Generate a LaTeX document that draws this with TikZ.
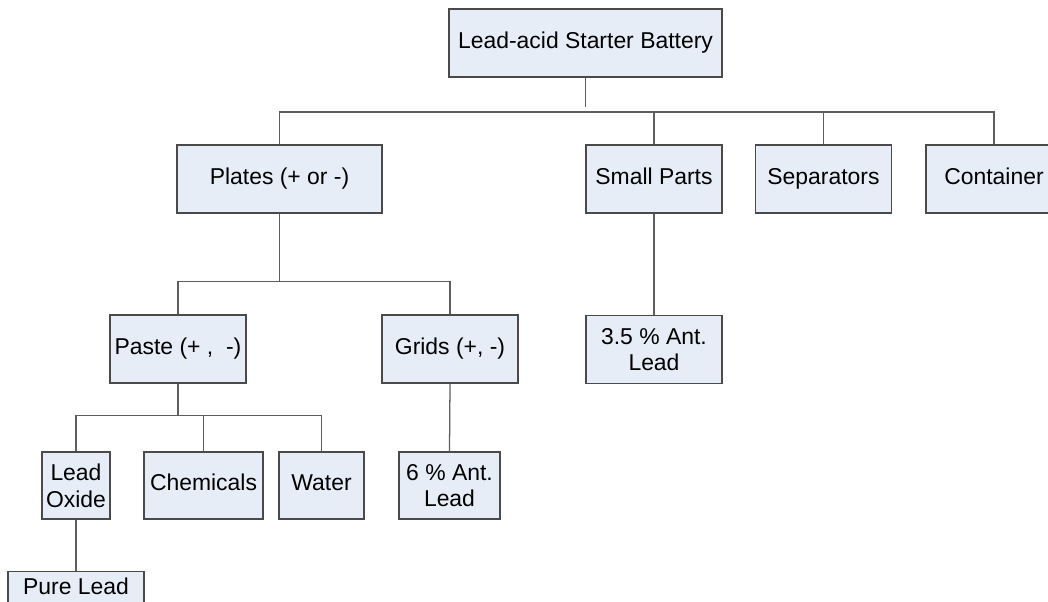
\documentclass[tikz,border=0pt]{standalone}
\usepackage{fontspec}
\setmainfont{Liberation Sans}
\usepackage{xcolor}
\usepackage{tikz}
\usetikzlibrary{positioning}

\definecolor{boxfill}{HTML}{E6EDF7}
\definecolor{boxline}{HTML}{4A4A4A}
\definecolor{wire}{HTML}{5E5E5E}

\tikzset{
	part/.style={shape=rectangle, draw=boxline, fill=boxfill, line width=0.8pt, align=center, inner sep=2pt, minimum height=1.7cm, font=\fontsize{16.3}{19}\selectfont},
	oneline/.style={text height=0.716em, text depth=0pt},
	link/.style={draw=wire, line width=0.9pt}
}

\begin{document}
\begin{tikzpicture}[x=0.025cm, y=-0.025cm]
	\useasboundingbox (0, 0) rectangle (1048, 601);
	% Boxes:
	\node[part, oneline, minimum width=6.825cm](top) at (585.5, 43){Lead-acid Starter Battery};
	\node[part, oneline, minimum width=5.125cm](plates) at (279.5, 179){Plates (+ or -)};
	\node[part, oneline, minimum width=3.4cm](small) at (654, 179){Small Parts};
	\node[part, oneline, minimum width=3.4cm](sep) at (823.5, 179){Separators};
	\node[part, oneline, minimum width=3.4cm](cont) at (994, 179){Container};
	\node[part, oneline, minimum width=3.4cm](paste) at (178, 349){Paste (+ ,\ \ -)};
	\node[part, oneline, minimum width=3.4cm](grids) at (450, 349){Grids (+, -)};
	\node[part, minimum width=3.4cm](ant35) at (654, 349.5){3.5 \% Ant.\\Lead};
	\node[part, minimum width=1.7cm, minimum height=1.675cm](oxide) at (76, 485.5){Lead\\Oxide};
	\node[part, oneline, minimum width=2.975cm, minimum height=1.675cm](chem) at (203.5, 485.5){Chemicals};
	\node[part, oneline, minimum width=2.125cm, minimum height=1.675cm](water) at (321.5, 485.5){Water};
	\node[part, minimum width=2.525cm, minimum height=1.675cm](ant6) at (449.5, 485.5){6 \% Ant.\\Lead};
	\node[part, minimum width=3.4cm, text height=0.505cm, text depth=1.055cm, anchor=north](pure) at (76, 571){Pure Lead};
	% Buses:
	\coordinate (bus1) at (0, 112);
	\coordinate (bus2) at (0, 281.7);
	\coordinate (bus3) at (0, 415.7);
	% Wires:
	\draw[link, shorten >=0.12cm] (top.south) -- (top.south |- bus1);
	\draw[link] (plates.north) |- (cont.north |- bus1) -- (cont.north);
	\draw[link] (small.north) -- (small.north |- bus1);
	\draw[link] (sep.north) -- (sep.north |- bus1);
	\draw[link] (plates.south) -- (plates.south |- bus2);
	\draw[link] (paste.north) |- (grids.north |- bus2) -- (grids.north);
	\draw[link] (small.south) -- (ant35.north);
	\draw[link] (paste.south) -- (paste.south |- bus3);
	\draw[link] (oxide.north) |- (water.north |- bus3) -- (water.north);
	\draw[link] (chem.north) -- (chem.north |- bus3);
	\draw[link] (grids.south) -- (ant6.north);
	\draw[link] (oxide.south) -- (pure.north);
\end{tikzpicture}
\end{document}
